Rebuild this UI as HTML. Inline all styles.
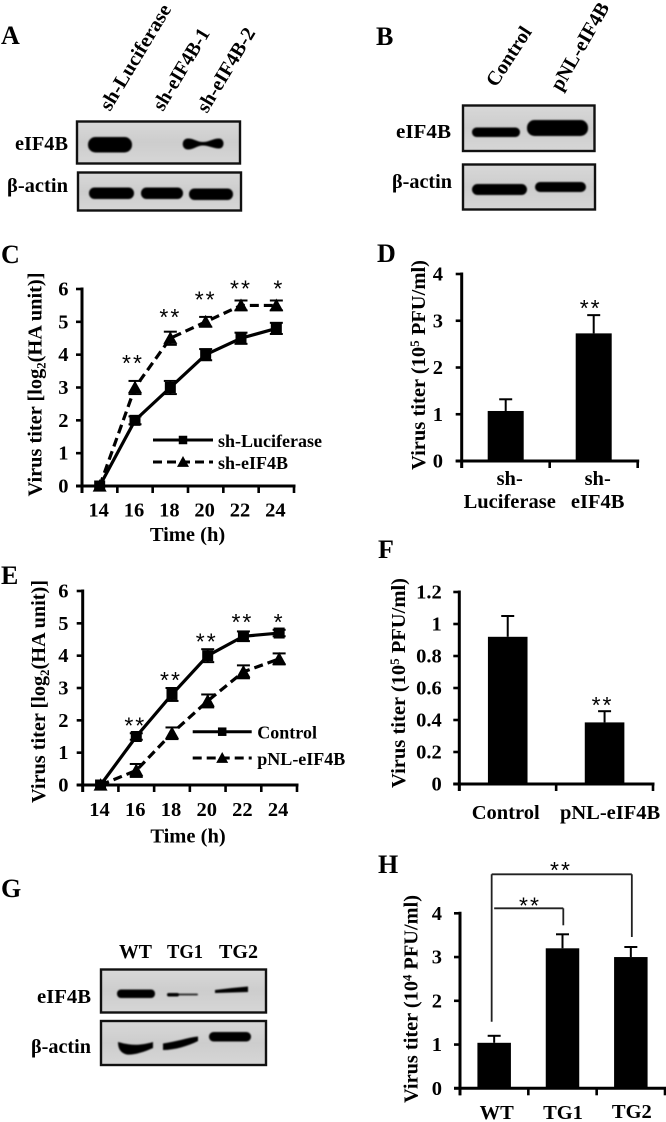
<!DOCTYPE html>
<html lang="en">
<head>
<meta charset="utf-8">
<title>eIF4B virus titer figure</title>
<style>
html,body{margin:0;padding:0;background:#fff;}
svg{display:block;filter:blur(0.35px);}
text{font-family:"Liberation Serif",serif;font-weight:bold;fill:#000;}
.panel{font-size:26px;}
.blot-label{font-size:20px;}
.star{font-family:"Liberation Sans",sans-serif;font-weight:normal;font-size:23px;letter-spacing:2px;text-anchor:middle;}
</style>
</head>
<body>
<svg id="figure" xmlns="http://www.w3.org/2000/svg" width="666" height="1122" viewBox="0 0 666 1122">
<defs>
<filter id="soft" x="-20%" y="-60%" width="140%" height="220%"><feGaussianBlur stdDeviation="0.9"/></filter>
<linearGradient id="blot-bg" x1="0" y1="0" x2="0" y2="1"><stop offset="0" stop-color="#d8d8d8"/><stop offset="0.5" stop-color="#cdcdcd"/><stop offset="1" stop-color="#d6d6d6"/></linearGradient>
</defs>

<text class="panel" x="1" y="44">A</text>
<text class="panel" x="376" y="45">B</text>
<text class="panel" x="1" y="263">C</text>
<text class="panel" x="377" y="262">D</text>
<text class="panel" x="1" y="584">E</text>
<text class="panel" x="378" y="558">F</text>
<text class="panel" x="1" y="897">G</text>
<text class="panel" x="378" y="873">H</text>

<g>
<text class="blot-label" transform="translate(110,112) rotate(-59)" textLength="120" lengthAdjust="spacingAndGlyphs">sh-Luciferase</text>
<text class="blot-label" transform="translate(163,112) rotate(-59)" textLength="92" lengthAdjust="spacingAndGlyphs">sh-eIF4B-1</text>
<text class="blot-label" transform="translate(207,114) rotate(-59)" textLength="95" lengthAdjust="spacingAndGlyphs">sh-eIF4B-2</text>
<text class="blot-label" x="15" y="150" textLength="53" lengthAdjust="spacingAndGlyphs">eIF4B</text>
<text class="blot-label" x="7" y="192" textLength="61" lengthAdjust="spacingAndGlyphs">β-actin</text>
<rect x="77" y="121.5" width="163" height="42" fill="url(#blot-bg)" stroke="#111" stroke-width="2.4"/>
<g filter="url(#soft)" fill="#000">
<rect x="88" y="137" width="44" height="15.5" rx="7.5"/>
<path d="M188 138.5 C194 138.5 197 142 203 142 C209 142 213 138.5 219 138.5 C225 138.5 225 148.5 219 148.5 C213 148.5 209 145.5 203 145.5 C197 145.5 194 149.5 188 149.5 C181 149.5 181 138.5 188 138.5Z"/>
</g>
<rect x="78" y="172.5" width="163" height="38" fill="url(#blot-bg)" stroke="#111" stroke-width="2.4"/>
<g filter="url(#soft)" fill="#000">
<rect x="89" y="187.5" width="45" height="11.5" rx="5.5"/>
<rect x="141" y="187.5" width="42" height="11.5" rx="5.5"/>
<rect x="189" y="188.5" width="44" height="11.5" rx="5.5"/>
</g>
</g>

<g>
<text class="blot-label" transform="translate(496,88) rotate(-57)" textLength="67" lengthAdjust="spacingAndGlyphs">Control</text>
<text class="blot-label" transform="translate(561,92) rotate(-60)" textLength="98" lengthAdjust="spacingAndGlyphs">pNL-eIF4B</text>
<text class="blot-label" x="396" y="138" textLength="55" lengthAdjust="spacingAndGlyphs">eIF4B</text>
<text class="blot-label" x="392" y="188" textLength="60" lengthAdjust="spacingAndGlyphs">β-actin</text>
<rect x="463" y="105.5" width="131.5" height="45.5" fill="url(#blot-bg)" stroke="#111" stroke-width="2.4"/>
<g filter="url(#soft)" fill="#000">
<rect x="472" y="127.5" width="48" height="9.5" rx="4.5"/>
<rect x="527" y="120" width="61" height="16" rx="7.5"/>
</g>
<rect x="463" y="164.5" width="132" height="45" fill="url(#blot-bg)" stroke="#111" stroke-width="2.4"/>
<g filter="url(#soft)" fill="#000">
<rect x="472" y="184" width="55" height="11" rx="5.5"/>
<rect x="535" y="182" width="51" height="10" rx="5"/>
</g>
</g>

<g>
<text class="blot-label" x="119" y="958" textLength="33" lengthAdjust="spacingAndGlyphs">WT</text>
<text class="blot-label" x="167" y="958" textLength="36" lengthAdjust="spacingAndGlyphs">TG1</text>
<text class="blot-label" x="219" y="958" textLength="39" lengthAdjust="spacingAndGlyphs">TG2</text>
<text class="blot-label" x="37" y="1003" textLength="54" lengthAdjust="spacingAndGlyphs">eIF4B</text>
<text class="blot-label" x="31" y="1053" textLength="60" lengthAdjust="spacingAndGlyphs">β-actin</text>
<rect x="101" y="969.5" width="165" height="43" fill="url(#blot-bg)" stroke="#111" stroke-width="2.4"/>
<g filter="url(#soft)" fill="#000">
<rect x="117" y="989.5" width="38" height="8.5" rx="4"/>
<rect x="167" y="993" width="12" height="3.5" rx="1.7"/>
<rect x="178" y="993.5" width="20" height="2" rx="1" opacity=".75"/>
<path d="M215 990 L232 988 L248 986.5 L248 992 L232 992.5 L215 993Z"/>
</g>
<rect x="101" y="1021" width="165" height="44" fill="url(#blot-bg)" stroke="#111" stroke-width="2.4"/>
<g filter="url(#soft)" fill="#000">
<path d="M118 1042 C126 1044 136 1047 153 1042 L153 1048 C142 1053 130 1056 125 1054 C120 1052 118 1048 118 1042Z"/>
<path d="M163 1043.5 C175 1042 188 1037.5 198 1036.5 L198 1041 C188 1046 175 1050 163 1050Z"/>
<rect x="209" y="1032" width="42" height="9.5" rx="4.5"/>
</g>
</g>

<g id="charts"></g>
</svg>

<script>
// ---- Panel C data ----
const cCategories = ['14', '16', '18', '20', '22', '24'];
const cYTicks = ['0', '1', '2', '3', '4', '5', '6'];
const cLuciferase = [0, 2, 3, 4, 4.5, 4.8];
const cLuciferaseErr = [0, 0.12, 0.2, 0.17, 0.17, 0.17];
const cEif4b = [0, 3, 4.5, 5, 5.5, 5.5];
const cEif4bErr = [0, 0.2, 0.2, 0.15, 0.15, 0.15];
const cStars = ['', '**', '**', '**', '**', '*'];
const cStarLevels = [0, 3.9, 5.3, 5.83, 6.17, 6.17];
const cLegend = ['sh-Luciferase', 'sh-eIF4B'];

// ---- Panel E data ----
const eCategories = ['14', '16', '18', '20', '22', '24'];
const eYTicks = ['0', '1', '2', '3', '4', '5', '6'];
const eControl = [0, 1.5, 2.8, 4, 4.6, 4.7];
const eControlErr = [0, 0.1, 0.2, 0.2, 0.15, 0.1];
const ePnl = [0, 0.45, 1.6, 2.6, 3.5, 3.9];
const ePnlErr = [0, 0.2, 0.18, 0.2, 0.2, 0.17];
const eStars = ['', '**', '**', '**', '**', '*'];
const eStarLevels = [0, 2, 3.4, 4.6, 5.2, 5.2];
const eLegend = ['Control', 'pNL-eIF4B'];

// ---- Panel D data ----
const dCategories = [['sh-', 'Luciferase'], ['sh-', 'eIF4B']];
const dYTicks = ['0', '1', '2', '3', '4'];
const dValues = [1.07, 2.73];
const dErrors = [0.25, 0.39];
const dStars = ['', '**'];

// ---- Panel F data ----
const fCategories = [['Control'], ['pNL-eIF4B']];
const fYTicks = ['0', '0.2', '0.4', '0.6', '0.8', '1', '1.2'];
const fValues = [0.92, 0.385];
const fErrors = [0.13, 0.07];
const fStars = ['', '**'];

// ---- Panel H data ----
const hCategories = [['WT'], ['TG1'], ['TG2']];
const hYTicks = ['0', '1', '2', '3', '4'];
const hValues = [1.04, 3.2, 3.0];
const hErrors = [0.16, 0.32, 0.23];
const hStars = ['', '', ''];

const SVGNS = 'http://www.w3.org/2000/svg';
const root = document.getElementById('charts');

function group(parent, name) {
  const el = document.createElementNS(SVGNS, 'g');
  
  
  parent.appendChild(el);
  return el;
}
function line(parent, x1, y1, x2, y2, w, name, color) {
  const el = document.createElementNS(SVGNS, 'line');
  el.setAttribute('x1', x1);
  el.setAttribute('y1', y1);
  el.setAttribute('x2', x2);
  el.setAttribute('y2', y2);
  el.setAttribute('stroke', color || '#000');
  el.setAttribute('stroke-width', w);
  
  
  parent.appendChild(el);
  return el;
}
function label(parent, str, x, y, size, anchor, name) {
  const el = document.createElementNS(SVGNS, 'text');
  el.setAttribute('x', x);
  el.setAttribute('y', y);
  el.setAttribute('font-size', size);
  el.setAttribute('text-anchor', anchor);
  
  
  el.textContent = str;
  parent.appendChild(el);
  return el;
}
function star(parent, str, x, y, name) {
  const el = document.createElementNS(SVGNS, 'text');
  el.setAttribute('class', 'star');
  el.setAttribute('x', x);
  el.setAttribute('y', y + 13);
  
  
  el.textContent = str;
  parent.appendChild(el);
  return el;
}
function yTitle(parent, x, yBottom, len, before, script, after, size, name) {
  const el = document.createElementNS(SVGNS, 'text');
  el.setAttribute('transform', 'translate(' + x + ',' + yBottom + ') rotate(-90)');
  el.setAttribute('font-size', size);
  el.setAttribute('textLength', len);
  el.setAttribute('lengthAdjust', 'spacingAndGlyphs');
  
  
  const a = document.createElementNS(SVGNS, 'tspan');
  a.textContent = before;
  el.appendChild(a);
  const s = document.createElementNS(SVGNS, 'tspan');
  s.setAttribute('font-size', size * 0.62);
  s.setAttribute('dy', script.dy);
  s.textContent = script.text;
  el.appendChild(s);
  const b = document.createElementNS(SVGNS, 'tspan');
  b.setAttribute('dy', -script.dy);
  b.textContent = after;
  el.appendChild(b);
  parent.appendChild(el);
  return el;
}
function squareMarker(parent, cx, cy, s, name) {
  const el = document.createElementNS(SVGNS, 'rect');
  el.setAttribute('x', cx - s / 2);
  el.setAttribute('y', cy - s / 2);
  el.setAttribute('width', s);
  el.setAttribute('height', s);
  el.setAttribute('fill', '#000');
  
  
  parent.appendChild(el);
  return el;
}
function triangleMarker(parent, cx, cy, s, name) {
  const el = document.createElementNS(SVGNS, 'polygon');
  const h = s * 0.9;
  el.setAttribute('points', cx + ',' + (cy - h * 0.55) + ' ' + (cx + s / 2) + ',' + (cy + h * 0.45) + ' ' + (cx - s / 2) + ',' + (cy + h * 0.45));
  el.setAttribute('fill', '#000');
  
  
  parent.appendChild(el);
  return el;
}

function drawAxes(g, c, ticks, nBands) {
  const x = i => c.left + (i + 0.5) * (c.right - c.left) / nBands;
  const yMax = parseFloat(ticks[ticks.length - 1]);
  const y = v => c.bottom - (v / yMax) * (c.bottom - c.top);
  line(g, c.left, c.top - 1.5, c.left, c.bottom + 7, 3, 'y-axis');
  line(g, c.left - 6, c.bottom, c.right + 1.5, c.bottom, 3, 'x-axis');
  ticks.forEach(t => {
    const v = parseFloat(t);
    line(g, c.left - 6, y(v), c.left, y(v), 2.6, 'y-tick');
    label(g, t, c.labelRight, y(v) + 6.5, c.tickSize, 'end', 'y-tick-label');
  });
  for (let i = 0; i <= nBands; i++) {
    const tx = c.left + i * (c.right - c.left) / nBands;
    line(g, tx, c.bottom, tx, c.bottom + 7, 2.6, 'x-tick');
  }
  return { x, y };
}

function drawLineChart(c, cats, ticks, s1, e1, s2, e2, stars, levels, legend) {
  const g = group(root, c.name);
  const { x, y } = drawAxes(g, c, ticks, cats.length);
  cats.forEach((t, i) => label(g, t, x(i) - 1, c.xLabelY, c.tickSize, 'middle', 'x-tick-label'));
  label(g, 'Time (h)', c.xTitleX, c.xTitleY, 20.5, 'middle', 'x-axis-title');
  yTitle(g, c.titleX, c.titleBottom, c.titleLen, 'Virus titer [log', { text: '2', dy: 4 }, '(HA unit)]', 20.2, 'y-axis-title');

  function series(vals, errs, dash, marker, name) {
    const sg = group(g, name);
    const path = document.createElementNS(SVGNS, 'polyline');
    path.setAttribute('points', vals.map((v, i) => x(i) + ',' + y(v)).join(' '));
    path.setAttribute('fill', 'none');
    path.setAttribute('stroke', '#000');
    path.setAttribute('stroke-width', 3.2);
    if (dash) path.setAttribute('stroke-dasharray', dash);
    
    
    sg.appendChild(path);
    vals.forEach((v, i) => {
      if (errs[i] > 0) {
        line(sg, x(i), y(v - errs[i]), x(i), y(v + errs[i]), 2, 'error-bar');
        line(sg, x(i) - 6.5, y(v + errs[i]), x(i) + 6.5, y(v + errs[i]), 2, 'error-cap');
        line(sg, x(i) - 6.5, y(v - errs[i]), x(i) + 6.5, y(v - errs[i]), 2, 'error-cap');
      }
      marker(sg, x(i), y(v), marker === squareMarker ? 11 : 14, name + '-point');
    });
  }
  series(s1, e1, null, squareMarker, 'series-solid');
  series(s2, e2, '9 5', triangleMarker, 'series-dashed');

  stars.forEach((s, i) => {
    if (s) star(g, s, x(i) + c.starDx[i], y(levels[i]), 'significance-stars');
  });

  const lg = group(g, 'legend');
  const ld = c.legend;
  line(lg, ld.x1, ld.y1, ld.x2, ld.y1, 3, 'legend-line-solid');
  squareMarker(lg, (ld.x1 + ld.x2) / 2, ld.y1, 8.5, 'legend-marker-square');
  label(lg, legend[0], ld.textX, ld.y1 + 6.8, ld.size, 'start', 'legend-label');
  line(lg, ld.x1, ld.y2, ld.x2, ld.y2, 3, 'legend-line-dashed').setAttribute('stroke-dasharray', '9 5');
  triangleMarker(lg, (ld.x1 + ld.x2) / 2, ld.y2, 12, 'legend-marker-triangle');
  label(lg, legend[1], ld.textX, ld.y2 + 6.8, ld.size, 'start', 'legend-label');
}

function drawBarChart(c, cats, ticks, vals, errs, stars) {
  const g = group(root, c.name);
  const { x, y } = drawAxes(g, c, ticks, cats.length);
  vals.forEach((v, i) => {
    const el = document.createElementNS(SVGNS, 'rect');
    el.setAttribute('x', x(i) - c.barW / 2);
    el.setAttribute('y', y(v));
    el.setAttribute('width', c.barW);
    el.setAttribute('height', y(0) - y(v));
    el.setAttribute('fill', '#000');
    
    
    g.appendChild(el);
    line(g, x(i), y(v), x(i), y(v + errs[i]), 2, 'error-bar');
    line(g, x(i) - 6.5, y(v + errs[i]), x(i) + 6.5, y(v + errs[i]), 2, 'error-cap');
    if (stars[i]) star(g, stars[i], x(i) + c.starDx, y(v + errs[i]) - c.starGap, 'significance-stars');
  });
  cats.forEach((lines, i) => {
    lines.forEach((t, k) => {
      label(g, t, x(i) + c.labelDx[i], c.xLabelY[i] + k * 23, c.xLabelSize, 'middle', 'x-category-label');
    });
  });
  yTitle(g, c.titleX, c.titleBottom, c.titleLen, 'Virus titer (10', { text: c.exp, dy: -6 }, ' PFU/ml)', 20.2, 'y-axis-title');
  return { g, x, y };
}

drawLineChart({
  name: 'chart-c', left: 82, right: 294, top: 289, bottom: 486, labelRight: 68.5, tickSize: 20.5,
  xLabelY: 516.5, xTitleX: 187.5, xTitleY: 541, titleX: 41.5, titleBottom: 496.5, titleLen: 224,
  starDx: [0, -2, 0, 0, 0, 2.5],
  legend: { x1: 153, x2: 213, y1: 440, y2: 462, textX: 218, size: 18 }
}, cCategories, cYTicks, cLuciferase, cLuciferaseErr, cEif4b, cEif4bErr, cStars, cStarLevels, cLegend);

drawLineChart({
  name: 'chart-e', left: 82.7, right: 297, top: 591, bottom: 785, labelRight: 68.5, tickSize: 20.5,
  xLabelY: 816, xTitleX: 188, xTitleY: 842.5, titleX: 45, titleBottom: 803, titleLen: 223,
  starDx: [0, -1, -1, -1, -1, 0],
  legend: { x1: 192.7, x2: 251.7, y1: 731.7, y2: 758, textX: 257.3, size: 18 }
}, eCategories, eYTicks, eControl, eControlErr, ePnl, ePnlErr, eStars, eStarLevels, eLegend);

drawBarChart({
  name: 'chart-d', left: 461.7, right: 637.7, top: 274, bottom: 461, labelRight: 443, tickSize: 20.5,
  barW: 36, labelDx: [4, 4], xLabelY: [485, 485], xLabelSize: 20.5, starDx: -3, starGap: 12,
  titleX: 425, titleBottom: 470, titleLen: 210, exp: '5'
}, dCategories, dYTicks, dValues, dErrors, dStars);

drawBarChart({
  name: 'chart-f', left: 459.3, right: 653, top: 592, bottom: 784, labelRight: 441.7, tickSize: 20.5,
  barW: 39.6, labelDx: [-2, 5.5], xLabelY: [819, 819], xLabelSize: 20.5, starDx: -2, starGap: 11,
  titleX: 405, titleBottom: 788, titleLen: 210, exp: '5'
}, fCategories, fYTicks, fValues, fErrors, fStars);

const chartH = drawBarChart({
  name: 'chart-h', left: 460, right: 665, top: 913.3, bottom: 1088.3, labelRight: 442, tickSize: 20.5,
  barW: 33.5, labelDx: [2.5, 0.5, 1], xLabelY: [1119, 1119, 1118], xLabelSize: 20.5, starDx: 0, starGap: 0,
  titleX: 417.3, titleBottom: 1103, titleLen: 208, exp: '4'
}, hCategories, hYTicks, hValues, hErrors, hStars);

// Significance brackets in panel H, anchored to bars through the axis functions
const bracketColor = '#222';
const bracketOuterTop = chartH.y(4) - 39;
const bracketInnerTop = chartH.y(4) - 5;
const bh = group(chartH.g, 'significance-brackets');
line(bh, chartH.x(0) - 2.5, bracketOuterTop, chartH.x(0) - 2.5, chartH.y(hValues[0] + hErrors[0]) + 5 - 19, 1.8, 'bracket-left', bracketColor);
line(bh, chartH.x(0) - 2.5, bracketOuterTop, chartH.x(2) + 1, bracketOuterTop, 1.8, 'bracket-outer-top', bracketColor);
line(bh, chartH.x(2) + 1, bracketOuterTop, chartH.x(2) + 1, chartH.y(hValues[2] + hErrors[2]) - 10, 1.8, 'bracket-outer-right', bracketColor);
line(bh, chartH.x(0), bracketInnerTop, chartH.x(1) + 0.8, bracketInnerTop, 1.8, 'bracket-inner-top', bracketColor);
line(bh, chartH.x(1) + 0.8, bracketInnerTop, chartH.x(1) + 0.8, chartH.y(hValues[1] + hErrors[1]) - 9, 1.8, 'bracket-inner-right', bracketColor);
star(bh, '**', 561, 865, 'significance-stars-outer');
star(bh, '**', 530, 900.7, 'significance-stars-inner');
</script>
</body>
</html>
